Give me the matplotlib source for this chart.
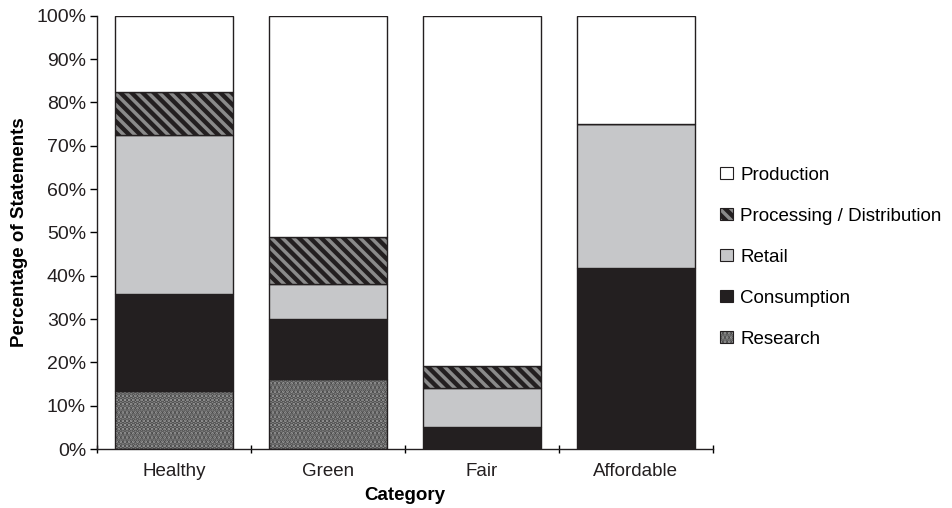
import matplotlib.pyplot as plt
import matplotlib.colors as mcolors
import numpy as np

plt.rcParams['font.family'] = ['Liberation Sans', 'DejaVu Sans']
plt.rcParams['hatch.linewidth'] = 2.5

categorias = ['Healthy', 'Green', 'Fair', 'Affordable']
# porcentajes por capa (de abajo hacia arriba)
research = [13.4, 16.2, 0.0, 0.0]
consumption = [22.4, 13.8, 5.0, 41.7]
retail = [36.7, 8.1, 9.1, 33.3]
processing = [9.9, 10.9, 5.1, 0.0]
production = [17.6, 51.0, 80.8, 25.0]

capas = [
    ('Research', research, '#9a9a9a', '....', '#4a4a4a'),
    ('Consumption', consumption, '#231f20', None, None),
    ('Retail', retail, '#c6c7c9', None, None),
    ('Processing / Distribution', processing, '#231f20', '\\\\\\', '#8a8a8a'),
    ('Production', production, 'white', None, None),
]

fig = plt.figure(figsize=(9.53, 5.08), dpi=100)
ax = fig.add_axes([0.102, 0.116, 0.646, 0.853])

x = np.arange(len(categorias))
ancho = 0.77
base = np.zeros(len(categorias))
handles = []
colores_hatch = {}
for nombre, valores, color, hatch, hcolor in capas:
    valores = np.array(valores)
    if hatch:
        plt.rcParams['hatch.color'] = hcolor
        b = ax.bar(x, valores, ancho, bottom=base, color=color, hatch=hatch, linewidth=0)
        colores_hatch[nombre] = hcolor
    else:
        b = ax.bar(x, valores, ancho, bottom=base, color=color, linewidth=0)
    # contorno negro
    ax.bar(x, valores, ancho, bottom=base, fill=False, edgecolor='#231f20', linewidth=1.0)
    handles.append((b, nombre))
    base = base + valores

ax.set_xlim(-0.5, len(categorias) - 0.5)
ax.set_ylim(0, 100)
ax.set_yticks(np.arange(0, 101, 10))
ax.set_yticklabels([f'{v}%' for v in range(0, 101, 10)], fontsize=14, color='#231f20')
ax.set_xticks(x)
ax.set_xticklabels(categorias, fontsize=13.5, color='#231f20')
ax.tick_params(axis='x', which='major', length=0, pad=10)
ax.set_xticks(np.arange(-0.5, len(categorias), 1), minor=True)
ax.tick_params(axis='x', which='minor', length=6, direction='inout', width=1)
ax.tick_params(axis='y', length=5, width=1, direction='out', pad=3)

for lado in ['top', 'right']:
    ax.spines[lado].set_visible(False)
for lado in ['left', 'bottom']:
    ax.spines[lado].set_color('#231f20')
    ax.spines[lado].set_linewidth(1)

ax.set_xlabel('Category', fontsize=13.5, fontweight='bold', labelpad=5)
ax.set_ylabel('Percentage of Statements', fontsize=13.5, fontweight='bold', labelpad=6)

h = [b for b, n in handles][::-1]
l = [n for b, n in handles][::-1]
leg = ax.legend(h, l, loc='center left', bbox_to_anchor=(1.0, 0.443), frameon=False,
                fontsize=13.5, handlelength=0.65, handleheight=0.65, labelspacing=1.28,
                handletextpad=0.4, borderaxespad=0.0)
for patch, nombre in zip(leg.get_patches(), l):
    patch.set_edgecolor('#231f20')
    patch.set_linewidth(0.8)
    if nombre in colores_hatch:
        patch._hatch_color = mcolors.to_rgba(colores_hatch[nombre])

plt.savefig('out.png', dpi=100)
